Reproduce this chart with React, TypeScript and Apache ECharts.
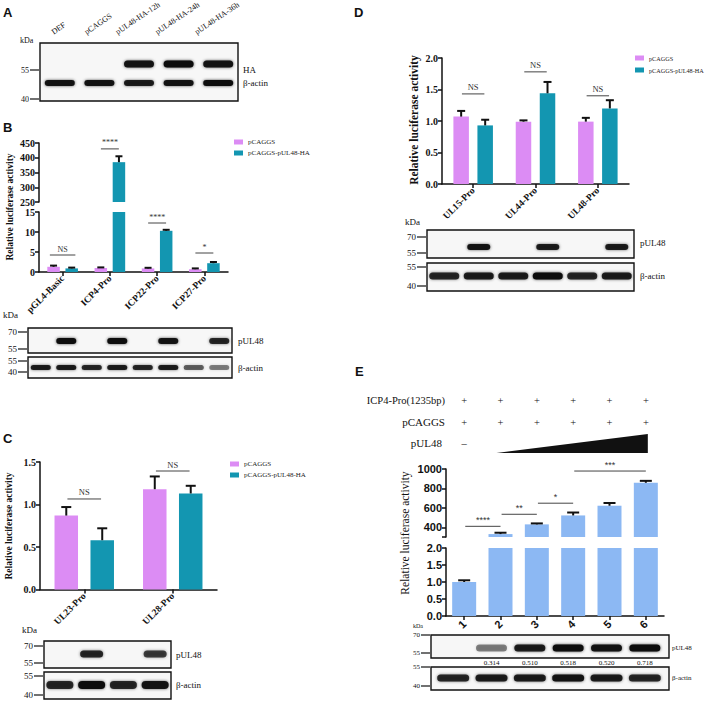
import React, { useEffect, useRef } from 'react';
import * as echarts from 'echarts';

const SERIF = '"Liberation Serif", "Times New Roman", serif';
const SANS = '"Liberation Sans", Arial, sans-serif';
const PINK = '#dc8cf4';
const TEAL = '#1396b1';
const BLUE = '#8cb8f3';
const INK = '#111';

// ---------------- data ----------------
const seriesNames = ['pCAGGS', 'pCAGGS-pUL48-HA'];

const bCategories = ['pGL4-Basic', 'ICP4-Pro', 'ICP22-Pro', 'ICP27-Pro'];
const bPink = [1.3, 1.0, 0.9, 0.7];
const bPinkErr = [0.3, 0.15, 0.15, 0.2];
const bTeal = [0.9, 385, 10.3, 2.2];
const bTealErr = [0.2, 20, 0.25, 0.3];
const bSigText = ['NS', '****', '****', '*'];
const bSigY = [4.25, 430, 12.25, 4.75];

const cCategories = ['UL23-Pro', 'UL28-Pro'];
const cPink = [0.87, 1.18];
const cPinkErr = [0.1, 0.15];
const cTeal = [0.58, 1.13];
const cTealErr = [0.14, 0.09];
const cSigText = ['NS', 'NS'];
const cSigY = [1.065, 1.394];

const dCategories = ['UL15-Pro', 'UL44-Pro', 'UL48-Pro'];
const dPink = [1.07, 0.99, 0.99];
const dPinkErr = [0.09, 0.02, 0.06];
const dTeal = [0.93, 1.44, 1.2];
const dTealErr = [0.09, 0.18, 0.13];
const dSigText = ['NS', 'NS', 'NS'];
const dSigY = [1.43, 1.78, 1.4];

const eCategories = ['1', '2', '3', '4', '5', '6'];
const eValues = [1.0, 330, 430, 522, 622, 858];
const eErr = [0.05, 14, 10, 30, 28, 20];
const eSigFrom = [0, 1, 2, 3];
const eSigTo = [1, 2, 3, 5];
const eSigY = [410, 534, 648, 979];
const eSigText = ['****', '**', '*', '***'];
const eUpperLabels = [400, 600, 800, 1000];
const eUpperTicks = [300, 400, 600, 800, 1000];
const eRowICP4 = ['+', '+', '+', '+', '+', '+'];
const eRowPCAGGS = ['+', '+', '+', '+', '+', '+'];
const eRatios = ['', '0.314', '0.510', '0.518', '0.520', '0.718'];

// western blot band intensities per lane
const aLanes = ['DEF', 'pCAGGS', 'pUL48-HA-12h', 'pUL48-HA-24h', 'pUL48-HA-36h'];
const aHA = [0, 0, 0.95, 1, 0.95];
const aActin = [0.95, 0.95, 0.9, 0.95, 1];
const bBlotUL48 = [0, 1, 0, 1, 0, 0.95, 0, 0.85];
const bBlotActin = [0.9, 0.9, 0.85, 0.9, 0.85, 0.9, 0.6, 0.45];
const cBlotUL48 = [0, 0.85, 0, 0.75];
const cBlotActin = [0.85, 1, 0.85, 0.95];
const dBlotUL48 = [0, 0.95, 0, 0.9, 0, 0.9];
const dBlotActin = [0.85, 0.9, 0.9, 1, 0.85, 0.9];
const eBlotUL48 = [0, 0.45, 0.9, 1, 0.95, 1];
const eBlotActin = [0.85, 0.9, 0.9, 0.95, 0.9, 0.85];

// ---------------- layout ----------------
const G = {
  bU: { left: 39, top: 143, width: 189, height: 59 },
  bL: { left: 39, top: 212, width: 189, height: 60 },
  c: { left: 40, top: 462, width: 177, height: 127.5 },
  d: { left: 442, top: 58, width: 187, height: 126 },
  eU: { left: 446, top: 469, width: 218, height: 68 },
  eL: { left: 446, top: 548, width: 218, height: 68 },
};

const serif = (size: number, bold = false) => `${bold ? 'bold ' : ''}${size}px ${SERIF}`;
const sans = (size: number, bold = false) => `${bold ? 'bold ' : ''}${size}px ${SANS}`;

let measureCtx: CanvasRenderingContext2D | null = null;
function textWidth(text: string, font: string) {
  if (!measureCtx) measureCtx = document.createElement('canvas').getContext('2d');
  if (!measureCtx) return text.length * 4;
  measureCtx.font = font;
  return measureCtx.measureText(text).width;
}

function txt(x: number, y: number, text: string, font: string, align = 'left', vAlign = 'middle', rotation = 0, fill = INK) {
  return { type: 'text', x, y, rotation, z: 20, style: { text, font, fill, align, verticalAlign: vAlign } };
}

function box(x: number, y: number, w: number, h: number) {
  return { type: 'rect', z: 10, shape: { x, y, width: w, height: h }, style: { fill: '#f7f7f7', stroke: INK, lineWidth: 1.4 } };
}

function bands(x0: number, w: number, intens: number[], cy: number, bw: number, bh: number) {
  const lw = w / intens.length;
  const out: any[] = [];
  intens.forEach((k, i) => {
    if (!k) return;
    const cx = x0 + lw * (i + 0.5);
    out.push({
      type: 'rect', z: 11,
      shape: { x: cx - bw / 2, y: cy - bh / 2, width: bw, height: bh, r: bh / 2 },
      style: { fill: `rgba(12,12,12,${k})`, shadowBlur: 3, shadowColor: `rgba(0,0,0,${k * 0.7})` },
    });
  });
  return out;
}

function marker(label: string, boxX: number, y: number, font: string) {
  return [
    txt(boxX - 11, y, label, font, 'right', 'middle'),
    { type: 'line', z: 20, shape: { x1: boxX - 10, y1: y, x2: boxX - 1, y2: y }, style: { stroke: INK, lineWidth: 1.2 } },
  ];
}

function errSeries(xi: number, yi: number, vals: number[], errs: number[], offset: number, capW: number, keep: (v: number, t: number) => boolean) {
  return {
    type: 'custom', xAxisIndex: xi, yAxisIndex: yi, z: 5, silent: true,
    data: vals.map((v, i) => [i, v, v + errs[i]]).filter((d) => keep(d[1], d[2])),
    renderItem: (_p: any, api: any) => {
      const base = api.coord([api.value(0), api.value(1)]);
      const top = api.coord([api.value(0), api.value(2)]);
      const x = base[0] + offset;
      return {
        type: 'group', children: [
          { type: 'line', shape: { x1: x, y1: base[1], x2: x, y2: top[1] }, style: { stroke: INK, lineWidth: 2 } },
          { type: 'line', shape: { x1: x - capW / 2, y1: top[1], x2: x + capW / 2, y2: top[1] }, style: { stroke: INK, lineWidth: 2 } },
        ],
      };
    },
  };
}

type Sig = { a: number; b: number; y: number; text: string };
function sigSeries(xi: number, yi: number, items: Sig[], font: string) {
  return {
    type: 'custom', xAxisIndex: xi, yAxisIndex: yi, z: 6, silent: true,
    data: items.map((it) => [Math.round((it.a + it.b) / 2), it.y]),
    renderItem: (params: any, api: any) => {
      const it = items[params.dataIndex];
      const c0 = api.coord([0, it.y]);
      const band = api.size([1, 0])[0];
      const x1 = c0[0] + it.a * band;
      const x2 = c0[0] + it.b * band;
      const y = c0[1];
      return {
        type: 'group', children: [
          { type: 'line', shape: { x1, y1: y, x2, y2: y }, style: { stroke: '#444', lineWidth: 1 } },
          { type: 'text', x: (x1 + x2) / 2, y: y - 2, style: { text: it.text, font, fill: '#333', align: 'center', verticalAlign: 'bottom' } },
        ],
      };
    },
  };
}

function bar(name: string, xi: number, yi: number, data: any[], color: string, barWidth: number, barGap: string) {
  return { type: 'bar', name, xAxisIndex: xi, yAxisIndex: yi, data, barWidth, barGap, itemStyle: { color }, clip: true, z: 2 };
}

function buildOption() {
  const lbl = (size: number, fam = SERIF) => ({ fontFamily: fam, fontWeight: 'bold', fontSize: size, color: INK });
  const axisLine = { show: true, onZero: false, lineStyle: { color: INK, width: 1.5 } };
  const tick = { show: true, length: 4, lineStyle: { color: INK, width: 1.5 } };
  const xTick = { ...tick, alignWithLabel: true };
  const fmt1 = (v: number) => v.toFixed(1);
  const fmt0 = (v: number) => String(v);

  const xAxis = [
    { gridIndex: 0, type: 'category', data: bCategories, show: false },
    { gridIndex: 1, type: 'category', data: bCategories, axisLine, axisTick: xTick, axisLabel: { ...lbl(9.5), rotate: 45, margin: 5, interval: 0 } },
    { gridIndex: 2, type: 'category', data: cCategories, axisLine, axisTick: xTick, axisLabel: { ...lbl(9.5), rotate: 45, margin: 5, interval: 0 } },
    { gridIndex: 3, type: 'category', data: dCategories, axisLine, axisTick: xTick, axisLabel: { ...lbl(9.5), rotate: 45, margin: 5, interval: 0 } },
    { gridIndex: 4, type: 'category', data: eCategories, show: false },
    { gridIndex: 5, type: 'category', data: eCategories, axisLine, axisTick: xTick, axisLabel: { ...lbl(11, SANS), rotate: 45, margin: 6, interval: 0 } },
  ];
  const yBase = (gi: number, extra: any) => ({ gridIndex: gi, type: 'value', axisLine, axisTick: tick, splitLine: { show: false }, ...extra });
  const yAxis = [
    yBase(0, { min: 250, max: 450, interval: 50, axisLabel: { ...lbl(10), margin: 4, formatter: fmt0 } }),
    yBase(1, { min: 0, max: 15, interval: 5, axisLabel: { ...lbl(10), margin: 4, formatter: fmt0 } }),
    yBase(2, { min: 0, max: 1.5, interval: 0.5, axisLabel: { ...lbl(10), margin: 4, formatter: fmt1 } }),
    yBase(3, { min: 0, max: 2, interval: 0.5, axisLabel: { ...lbl(10), margin: 4, formatter: fmt1 } }),
    yBase(4, { min: 300, max: 1000, axisLabel: { ...lbl(11, SANS), margin: 4, customValues: eUpperLabels, formatter: fmt0 }, axisTick: { ...tick, customValues: eUpperTicks } }),
    yBase(5, { min: 0, max: 2, interval: 0.5, axisLabel: { ...lbl(11, SANS), margin: 4, formatter: fmt1 } }),
  ];

  const series: any[] = [];
  // ---- B (broken axis) ----
  const bW = 12.5, bGap = 0.45, bOff = (bW * (1 + bGap)) / 2;
  const bMin = 250, bMax = 15;
  series.push(bar(seriesNames[0], 1, 1, bPink, PINK, bW, '45%'));
  series.push(bar(seriesNames[1], 1, 1, bTeal, TEAL, bW, '45%'));
  series.push(bar(seriesNames[0], 0, 0, bPink.map((v) => (v > bMin ? v : '-')), PINK, bW, '45%'));
  series.push(bar(seriesNames[1], 0, 0, bTeal.map((v) => (v > bMin ? v : '-')), TEAL, bW, '45%'));
  series.push(errSeries(1, 1, bPink, bPinkErr, -bOff, 7, (_v, t) => t <= bMax));
  series.push(errSeries(1, 1, bTeal, bTealErr, bOff, 7, (_v, t) => t <= bMax));
  series.push(errSeries(0, 0, bPink, bPinkErr, -bOff, 7, (v) => v > bMin));
  series.push(errSeries(0, 0, bTeal, bTealErr, bOff, 7, (v) => v > bMin));
  const bSig: Sig[] = bSigText.map((t, i) => {
    const h = t === 'NS' ? 0.27 : 0.19;
    return { a: i - h, b: i + h, y: bSigY[i], text: t };
  });
  series.push(sigSeries(1, 1, bSig.filter((s) => s.y <= bMax), serif(8)));
  series.push(sigSeries(0, 0, bSig.filter((s) => s.y > bMin), serif(8)));

  // ---- C ----
  const cW = 23.5, cOff = (cW * 1.53) / 2;
  series.push(bar(seriesNames[0], 2, 2, cPink, PINK, cW, '53%'));
  series.push(bar(seriesNames[1], 2, 2, cTeal, TEAL, cW, '53%'));
  series.push(errSeries(2, 2, cPink, cPinkErr, -cOff, 10, () => true));
  series.push(errSeries(2, 2, cTeal, cTealErr, cOff, 10, () => true));
  series.push(sigSeries(2, 2, cSigText.map((t, i) => ({ a: i - 0.19, b: i + 0.19, y: cSigY[i], text: t })), serif(8.5)));

  // ---- D ----
  const dW = 15.5, dOff = (dW * 1.55) / 2;
  series.push(bar(seriesNames[0], 3, 3, dPink, PINK, dW, '55%'));
  series.push(bar(seriesNames[1], 3, 3, dTeal, TEAL, dW, '55%'));
  series.push(errSeries(3, 3, dPink, dPinkErr, -dOff, 8, () => true));
  series.push(errSeries(3, 3, dTeal, dTealErr, dOff, 8, () => true));
  series.push(sigSeries(3, 3, dSigText.map((t, i) => ({ a: i - 0.18, b: i + 0.18, y: dSigY[i], text: t })), serif(8.5)));

  // ---- E (broken axis) ----
  const eMin = 300, eMax = 2;
  series.push(bar('Relative luciferase activity', 5, 5, eValues, BLUE, 24, '0%'));
  series.push(bar('Relative luciferase activity', 4, 4, eValues.map((v) => (v > eMin ? v : '-')), BLUE, 24, '0%'));
  series.push(errSeries(5, 5, eValues, eErr, 0, 12, (_v, t) => t <= eMax));
  series.push(errSeries(4, 4, eValues, eErr, 0, 12, (v) => v > eMin));
  series.push(sigSeries(4, 4, eSigText.map((t, i) => ({ a: eSigFrom[i] + 0.03, b: eSigTo[i], y: eSigY[i], text: t })), sans(9)));

  // ---------------- graphics ----------------
  const g: any[] = [];
  // panel letters
  g.push(txt(3, 6, 'A', sans(13, true), 'left', 'top'));
  g.push(txt(3, 121, 'B', sans(13, true), 'left', 'top'));
  g.push(txt(3, 432, 'C', sans(13, true), 'left', 'top'));
  g.push(txt(354, 6, 'D', sans(13, true), 'left', 'top'));
  g.push(txt(355, 365, 'E', sans(13, true), 'left', 'top'));

  // y-axis titles
  g.push(txt(10, 207, 'Relative luciferase activity', serif(9.5, true), 'center', 'middle', Math.PI / 2));
  g.push(txt(9, 526, 'Relative luciferase activity', serif(9.5, true), 'center', 'middle', Math.PI / 2));
  g.push(txt(414, 120, 'Relative luciferase activity', serif(11.5, true), 'center', 'middle', Math.PI / 2));
  g.push(txt(405, 533, 'Relative luciferase activity', serif(11.5), 'center', 'middle', Math.PI / 2));

  // ---- A blot ----
  const aX = 40, aW = 198;
  g.push(box(aX, 43, aW, 58));
  g.push(...bands(aX, aW, aHA, 64, 30, 7));
  g.push(...bands(aX, aW, aActin, 83, 30, 6));
  const aAng = (34 * Math.PI) / 180;
  const aFont = serif(8);
  aLanes.forEach((l, i) => {
    const cx = aX + (aW / aLanes.length) * (i + 0.5);
    const half = textWidth(l, aFont) / 2;
    g.push(txt(cx + 1, 36 - half * Math.sin(aAng), l, aFont, 'center', 'bottom', aAng));
  });
  g.push(txt(20, 40, 'kDa', serif(8), 'left', 'middle'));
  g.push(...marker('55', aX, 70, serif(8)));
  g.push(...marker('40', aX, 99, serif(8)));
  g.push(txt(243, 70, 'HA', serif(9)));
  g.push(txt(243, 83, 'β-actin', serif(9)));

  // ---- B blot ----
  g.push(txt(3, 315, 'kDa', serif(9)));
  g.push(box(28, 328, 204, 25));
  g.push(...bands(28, 204, bBlotUL48, 341, 20, 6));
  g.push(box(28, 357, 204, 21));
  g.push(...bands(28, 204, bBlotActin, 367.5, 20, 5));
  g.push(...marker('70', 28, 332, serif(9)));
  g.push(...marker('55', 28, 349, serif(9)));
  g.push(...marker('55', 28, 361, serif(9)));
  g.push(...marker('40', 28, 372, serif(9)));
  g.push(txt(238, 341, 'pUL48', serif(9)));
  g.push(txt(238, 368, 'β-actin', serif(9)));

  // ---- C blot ----
  g.push(txt(22, 630, 'kDa', serif(9)));
  g.push(box(44, 641, 127, 27));
  g.push(...bands(44, 127, cBlotUL48, 654, 23, 7));
  g.push(box(44, 672, 127, 27));
  g.push(...bands(44, 127, cBlotActin, 685, 27, 8));
  g.push(...marker('70', 44, 646, serif(9)));
  g.push(...marker('55', 44, 663, serif(9)));
  g.push(...marker('55', 44, 676, serif(9)));
  g.push(...marker('40', 44, 695, serif(9)));
  g.push(txt(176, 655, 'pUL48', serif(9)));
  g.push(txt(176, 685, 'β-actin', serif(9)));

  // ---- D blot ----
  g.push(txt(405, 222, 'kDa', serif(9)));
  g.push(box(427, 230, 207, 28));
  g.push(...bands(427, 207, dBlotUL48, 247, 23, 6));
  g.push(box(427, 263, 207, 28));
  g.push(...bands(427, 207, dBlotActin, 276, 30, 7));
  g.push(...marker('70', 427, 237, serif(9)));
  g.push(...marker('55', 427, 253, serif(9)));
  g.push(...marker('55', 427, 267, serif(9)));
  g.push(...marker('40', 427, 286, serif(9)));
  g.push(txt(640, 243, 'pUL48', serif(9)));
  g.push(txt(640, 276, 'β-actin', serif(9)));

  // ---- E header ----
  const eBand = G.eL.width / eCategories.length;
  const eCx = (i: number) => G.eL.left + eBand * (i + 0.5);
  g.push(txt(445, 400, 'ICP4-Pro(1235bp)', serif(10.5), 'right'));
  g.push(txt(445, 422, 'pCAGGS', serif(11), 'right'));
  g.push(txt(442, 443, 'pUL48', serif(11), 'right'));
  eRowICP4.forEach((s, i) => g.push(txt(eCx(i), 400, s, serif(10.5), 'center')));
  eRowPCAGGS.forEach((s, i) => g.push(txt(eCx(i), 422, s, serif(10.5), 'center')));
  g.push(txt(eCx(0), 443, '–', serif(10.5), 'center'));
  g.push({
    type: 'polygon', z: 20,
    shape: { points: [[eCx(1) - 4, 453], [eCx(5) + 2, 453], [eCx(5) + 2, 434]] },
    style: { fill: INK },
  });

  // ---- E blot ----
  const eBX = 434, eBW = 230;
  g.push(txt(413, 626, 'kDa', serif(6)));
  g.push(box(431, 635, 238, 23));
  g.push(...bands(eBX, eBW, eBlotUL48, 648, 31, 7));
  g.push(box(431, 667, 238, 23));
  g.push(...bands(eBX, eBW, eBlotActin, 678, 32, 7));
  g.push(...marker('70', 431, 635, serif(7)));
  g.push(...marker('55', 431, 653, serif(7)));
  g.push(...marker('55', 431, 667, serif(7)));
  g.push(...marker('40', 431, 686, serif(7)));
  eRatios.forEach((r, i) => {
    if (r) g.push(txt(eBX + (eBW / eRatios.length) * (i + 0.5), 663, r, serif(7), 'center'));
  });
  g.push(txt(672, 648, 'pUL48', serif(7)));
  g.push(txt(672, 678, 'β-actin', serif(7)));

  const legendCommon = {
    orient: 'vertical', data: seriesNames, icon: 'rect', itemWidth: 9, itemHeight: 5, itemGap: 3,
    selectedMode: false, textStyle: { fontFamily: SERIF, fontSize: 7, color: '#222', lineHeight: 8 },
  };

  return {
    animation: false,
    backgroundColor: '#ffffff',
    grid: [G.bU, G.bL, G.c, G.d, G.eU, G.eL],
    xAxis,
    yAxis,
    legend: [
      { ...legendCommon, left: 229, top: 133 },
      { ...legendCommon, left: 225, top: 455 },
      {
        ...legendCommon, left: 630, top: 49, itemGap: 4, itemWidth: 9,
        textStyle: { ...legendCommon.textStyle, fontSize: 6.2 },
      },
    ],
    series,
    graphic: { elements: g },
  };
}

export default function App() {
  const ref = useRef<HTMLDivElement>(null);
  useEffect(() => {
    const chart = echarts.init(ref.current!, null, { renderer: 'svg' });
    chart.setOption(buildOption() as any);
    return () => chart.dispose();
  }, []);
  return <div ref={ref} style={{ position: 'absolute', left: 0, top: 0, width: 708, height: 701, background: '#fff' }} />;
}
